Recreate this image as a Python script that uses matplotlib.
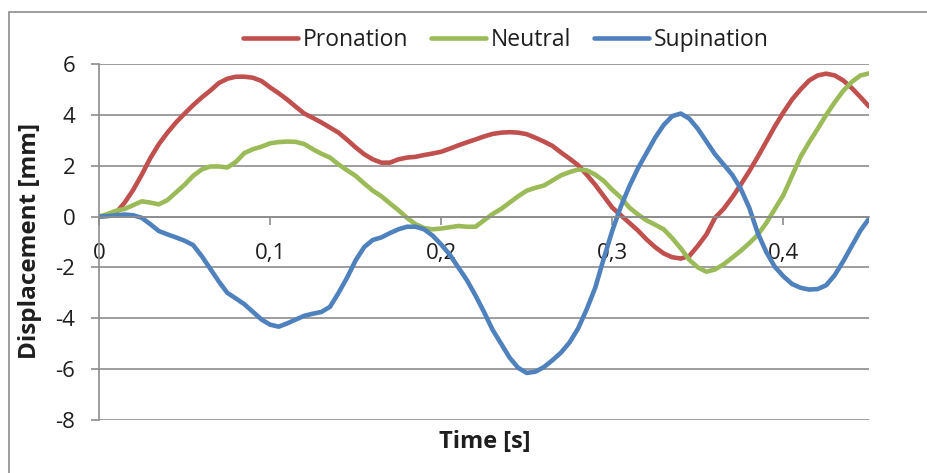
import matplotlib.pyplot as plt
import matplotlib.patches as mpatches
import numpy as np

plt.rcParams['font.family'] = ['Open Sans', 'DejaVu Sans']

# time base [s], 5 ms steps
time = np.round(np.arange(0, 0.4501, 0.005), 3)

pronation = [
    0.00, 0.03, 0.15, 0.55, 1.05, 1.65, 2.30, 2.85, 3.30, 3.70,
    4.05, 4.38, 4.68, 4.95, 5.25, 5.42, 5.50, 5.50, 5.46, 5.33,
    5.08, 4.85, 4.60, 4.32, 4.05, 3.88, 3.70, 3.50, 3.30, 3.02,
    2.72, 2.45, 2.25, 2.12, 2.12, 2.25, 2.32, 2.35, 2.42, 2.48,
    2.55, 2.67, 2.80, 2.92, 3.03, 3.15, 3.25, 3.30, 3.32, 3.30,
    3.24, 3.10, 2.95, 2.78, 2.52, 2.28, 2.02, 1.65, 1.25, 0.80,
    0.35, 0.05, -0.25, -0.55, -0.90, -1.20, -1.45, -1.60, -1.65, -1.55,
    -1.15, -0.70, -0.05, 0.30, 0.75, 1.25, 1.78, 2.35, 2.95, 3.55,
    4.10, 4.60, 5.00, 5.35, 5.55, 5.62, 5.55, 5.35, 5.05, 4.70,
    4.33,
]

neutral = [
    0.00, 0.10, 0.23, 0.30, 0.45, 0.60, 0.55, 0.48, 0.65, 0.95,
    1.25, 1.60, 1.85, 1.97, 1.97, 1.93, 2.15, 2.50, 2.65, 2.75,
    2.88, 2.93, 2.95, 2.94, 2.85, 2.65, 2.47, 2.32, 2.05, 1.82,
    1.60, 1.30, 1.02, 0.80, 0.52, 0.25, -0.05, -0.30, -0.45, -0.50,
    -0.47, -0.42, -0.37, -0.40, -0.40, -0.15, 0.10, 0.30, 0.55, 0.80,
    1.02, 1.13, 1.22, 1.42, 1.62, 1.75, 1.85, 1.82, 1.65, 1.40,
    1.05, 0.75, 0.35, 0.08, -0.15, -0.32, -0.50, -0.85, -1.25, -1.70,
    -2.00, -2.17, -2.08, -1.88, -1.62, -1.35, -1.05, -0.72, -0.25, 0.30,
    0.85, 1.60, 2.35, 2.92, 3.45, 4.00, 4.50, 4.95, 5.30, 5.55,
    5.63,
]

supination = [
    0.00, 0.02, 0.05, 0.08, 0.05, -0.05, -0.30, -0.57, -0.70, -0.82,
    -0.95, -1.12, -1.55, -2.05, -2.55, -3.00, -3.22, -3.45, -3.75, -4.05,
    -4.25, -4.33, -4.20, -4.05, -3.90, -3.82, -3.75, -3.55, -3.00, -2.40,
    -1.72, -1.20, -0.92, -0.82, -0.65, -0.50, -0.40, -0.40, -0.50, -0.75,
    -1.10, -1.50, -2.00, -2.50, -3.10, -3.75, -4.45, -5.00, -5.55, -5.95,
    -6.15, -6.10, -5.92, -5.65, -5.35, -4.95, -4.40, -3.65, -2.80, -1.65,
    -0.55, 0.40, 1.20, 1.90, 2.50, 3.10, 3.60, 3.95, 4.05, 3.85,
    3.45, 2.95, 2.45, 2.05, 1.65, 1.10, 0.35, -0.65, -1.40, -1.98,
    -2.35, -2.65, -2.80, -2.87, -2.85, -2.70, -2.30, -1.75, -1.15, -0.55,
    -0.08,
]

series = [
    ('Pronation', pronation, '#C0504D'),
    ('Neutral', neutral, '#9BBB59'),
    ('Supination', supination, '#4F81BD'),
]

x_ticks = [0, 0.1, 0.2, 0.3, 0.4]
x_ticklabels = ['0', '0,1', '0,2', '0,3', '0,4']
y_ticks = [-8, -6, -4, -2, 0, 2, 4, 6]

grid_col = '#8C8C8C'
text_col = '#1E1E1E'

fig = plt.figure(figsize=(9.28, 4.73), dpi=100)
ax = fig.add_axes([99 / 928, 1 - 420 / 473, 770 / 928, 356 / 473])

for name, vals, col in series:
    ax.plot(time, vals, color=col, lw=3.3, label=name,
            solid_capstyle='round', solid_joinstyle='round')

ax.set_xlim(0, 0.45)
ax.set_ylim(-8, 6)
ax.set_xticks(x_ticks)
ax.set_xticklabels(x_ticklabels)
ax.set_yticks(y_ticks)
ax.set_yticklabels([str(v) for v in y_ticks])

ax.grid(axis='y', color=grid_col, lw=1.2)
ax.set_axisbelow(True)
for s in ('top', 'right'):
    ax.spines[s].set_visible(False)
ax.spines['bottom'].set_position(('data', 0))
for s in ('left', 'bottom'):
    ax.spines[s].set_color(grid_col)
    ax.spines[s].set_linewidth(1.2)

ax.tick_params(axis='both', direction='out', length=6, width=1.2,
               color=grid_col, labelcolor=text_col, labelsize=16)
ax.tick_params(axis='x', pad=13)
ax.tick_params(axis='y', pad=11)

fig.text(30 / 928, 1 - 241 / 473, 'Displacement [mm]', rotation=90,
         ha='center', va='center', fontsize=17.5, fontweight='bold', color=text_col)
fig.text(485 / 928, 1 - 442 / 473, 'Time [s]', ha='center', va='center',
         fontsize=17, fontweight='bold', color=text_col)

fig.legend(loc='center', bbox_to_anchor=(506 / 928, 1 - 40 / 473), ncol=3,
           frameon=False, fontsize=16.5, handlelength=2.4, handletextpad=0.2,
           columnspacing=1.0, labelcolor=text_col)

# outer chart border
fig.patches.append(mpatches.Rectangle((9 / 928, -0.1), 1.2, 1.1 - 12 / 473,
                                      transform=fig.transFigure, fill=False,
                                      edgecolor=grid_col, lw=1.2))

fig.savefig('out.png', dpi=100)
